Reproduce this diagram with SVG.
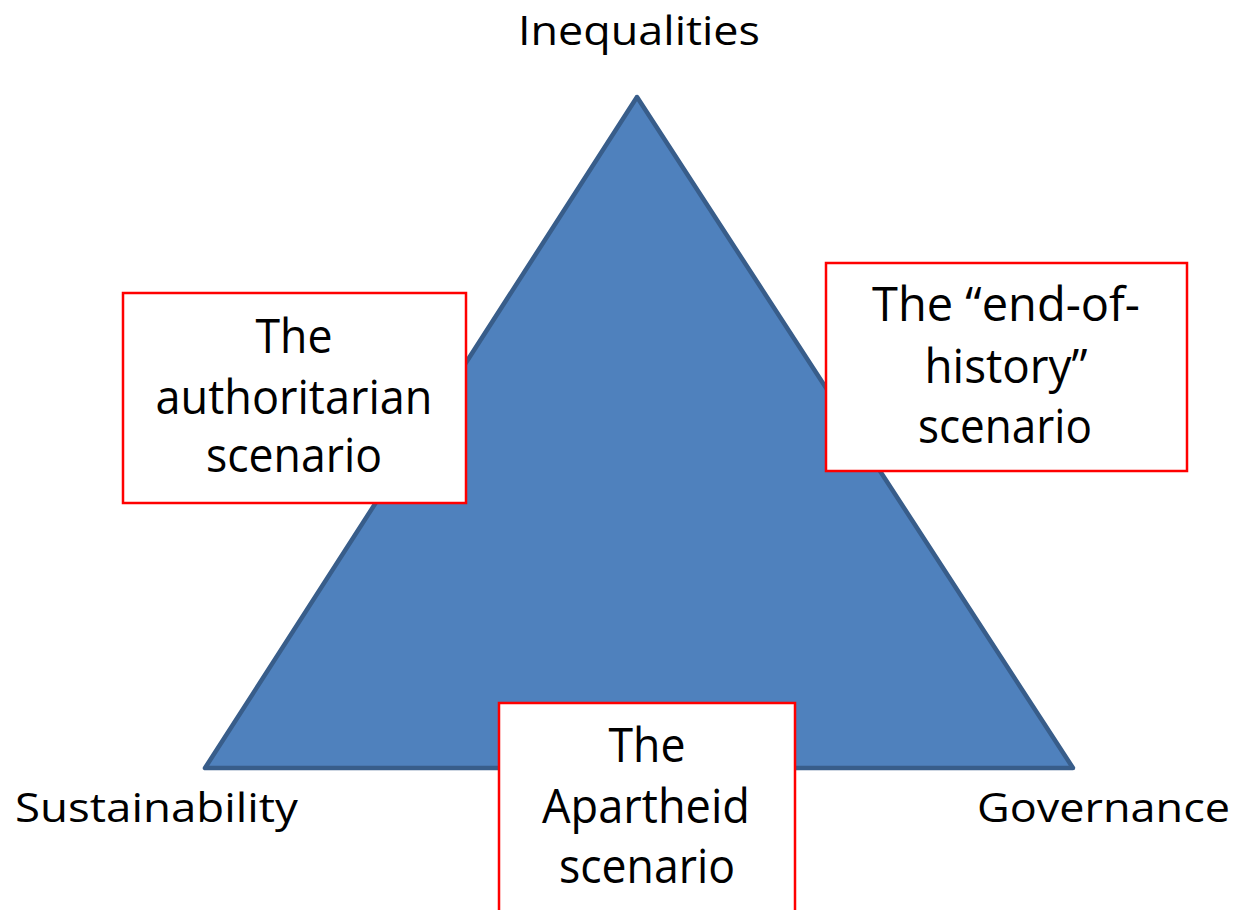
<svg xmlns="http://www.w3.org/2000/svg" width="1239" height="910" viewBox="0 0 1239 910">
<style>
.lbl{font-family:"Open Sans","Liberation Sans",sans-serif;font-size:41px;fill:#000}
.bx{font-family:"Open Sans","Liberation Sans",sans-serif;font-size:47px;fill:#000;text-anchor:middle}
.box{fill:#fff;stroke:#ff0000;stroke-width:2.5}
</style>
<rect width="1239" height="910" fill="#fff"/>
<g id="triangle">
<polygon points="637,97 205,768 1073,768" fill="#4f81bd" stroke="#385d8a" stroke-width="4.5" stroke-linejoin="round"/>
</g>
<g id="connectors"></g>
<g id="label-inequalities"><text class="lbl" x="518" y="45" textLength="242" lengthAdjust="spacingAndGlyphs">Inequalities</text></g>
<g id="label-sustainability"><text class="lbl" x="15" y="822" textLength="283" lengthAdjust="spacingAndGlyphs">Sustainability</text></g>
<g id="label-governance"><text class="lbl" x="977" y="822" textLength="253" lengthAdjust="spacingAndGlyphs">Governance</text></g>
<g id="node-authoritarian">
<rect class="box" x="123" y="293" width="343" height="210"/>
<text class="bx" x="294" y="353" textLength="77" lengthAdjust="spacingAndGlyphs">The</text>
<text class="bx" x="294" y="414" textLength="277" lengthAdjust="spacingAndGlyphs">authoritarian</text>
<text class="bx" x="294" y="472" textLength="176" lengthAdjust="spacingAndGlyphs">scenario</text>
</g>
<g id="node-endofhistory">
<rect class="box" x="826" y="263" width="361" height="208"/>
<text class="bx" x="1006" y="321" textLength="268" lengthAdjust="spacingAndGlyphs">The “end-of-</text>
<text class="bx" x="1006" y="383" textLength="163" lengthAdjust="spacingAndGlyphs">history”</text>
<text class="bx" x="1005" y="443" textLength="174" lengthAdjust="spacingAndGlyphs">scenario</text>
</g>
<g id="node-apartheid">
<rect class="box" x="499" y="703" width="296" height="220"/>
<text class="bx" x="647" y="762" textLength="77" lengthAdjust="spacingAndGlyphs">The</text>
<text class="bx" x="646" y="823" textLength="208" lengthAdjust="spacingAndGlyphs">Apartheid</text>
<text class="bx" x="647" y="883" textLength="176" lengthAdjust="spacingAndGlyphs">scenario</text>
</g>
</svg>
